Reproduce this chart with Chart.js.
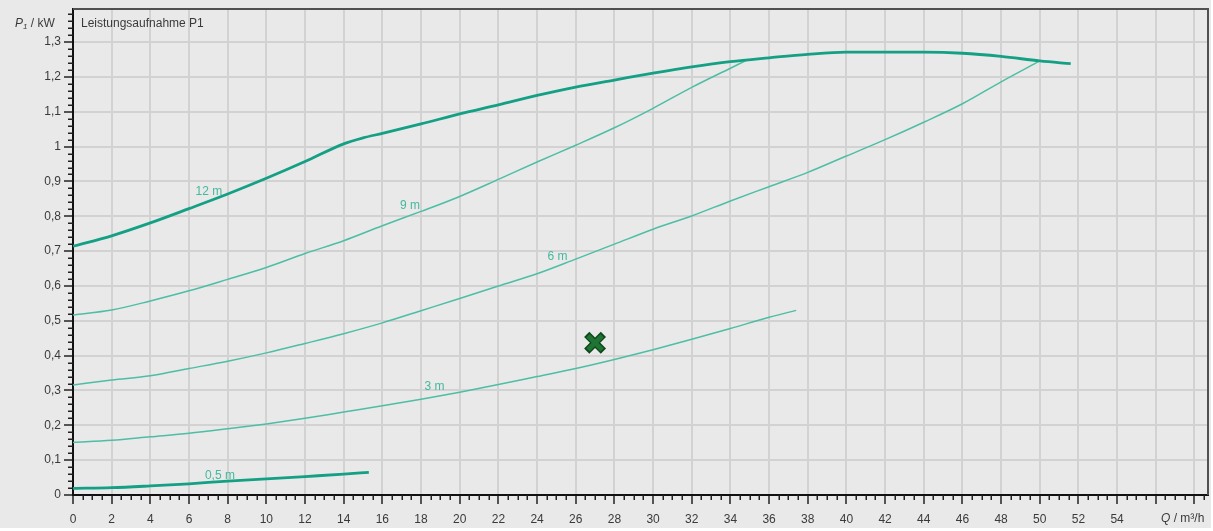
<!DOCTYPE html>
<html lang="de">
<head>
<meta charset="utf-8">
<title>Leistungsaufnahme P1</title>
<script src="https://cdn.jsdelivr.net/npm/chart.js@4/dist/chart.umd.min.js"></script>
<style>
  html, body { margin: 0; padding: 0; background: #ffffff; }
  #wrap { width: 1213px; height: 531px; }
  canvas { display: block; }
</style>
</head>
<body>
<div id="wrap"><canvas id="chart" width="1213" height="531"></canvas></div>
<script>
// Förderstrom Q (m³/h) und Leistungsaufnahme P1 (kW) je Förderhöhe
const q12m = [0, 2, 4, 6, 8, 10, 12, 14, 15, 16, 18, 20, 22, 24, 26, 28, 30, 32, 34, 36, 38, 40, 42, 44, 46, 48, 50, 51.6];
const p12m = [0.714, 0.744, 0.781, 0.822, 0.864, 0.909, 0.957, 1.008, 1.025, 1.038, 1.065, 1.094, 1.12, 1.147, 1.171, 1.191, 1.211, 1.229, 1.244, 1.255, 1.265, 1.271, 1.271, 1.271, 1.268, 1.259, 1.246, 1.238];

const q9m = [0, 2, 4, 6, 8, 10, 12, 14, 16, 18, 20, 22, 24, 26, 28, 30, 32, 34, 34.8];
const p9m = [0.517, 0.531, 0.557, 0.586, 0.619, 0.653, 0.693, 0.73, 0.773, 0.814, 0.857, 0.906, 0.956, 1.004, 1.054, 1.11, 1.17, 1.225, 1.247];

const q6m = [0, 2, 4, 6, 8, 10, 12, 14, 16, 18, 20, 22, 24, 26, 28, 30, 32, 34, 36, 38, 40, 42, 44, 46, 48, 50];
const p6m = [0.316, 0.33, 0.342, 0.363, 0.384, 0.408, 0.435, 0.463, 0.494, 0.529, 0.564, 0.6, 0.635, 0.677, 0.72, 0.763, 0.801, 0.844, 0.885, 0.926, 0.973, 1.02, 1.07, 1.123, 1.186, 1.246];

const q3m = [0, 2, 4, 6, 8, 10, 12, 14, 16, 18, 20, 22, 24, 26, 28, 30, 32, 34, 36, 37.4];
const p3m = [0.151, 0.157, 0.167, 0.177, 0.19, 0.204, 0.22, 0.238, 0.256, 0.275, 0.295, 0.317, 0.34, 0.363, 0.389, 0.417, 0.447, 0.478, 0.51, 0.53];

const q05m = [0, 2, 4, 6, 8, 10, 12, 14, 15.3];
const p05m = [0.019, 0.021, 0.026, 0.032, 0.04, 0.046, 0.053, 0.06, 0.065];

// Betriebspunkt
const markerQ = [27];
const markerP = [0.437];

// Achsbeschriftungen
const xTickLabels = ['0','2','4','6','8','10','12','14','16','18','20','22','24','26','28','30','32','34','36','38','40','42','44','46','48','50','52','54','',''];
const yTickLabels = ['0','0,1','0,2','0,3','0,4','0,5','0,6','0,7','0,8','0,9','1','1,1','1,2','1,3'];

const toPoints = (qs, ps) => qs.map((q, i) => ({ x: q, y: ps[i] }));

const TEAL_DARK = '#14a084';
const TEAL_LIGHT = '#4dbea4';

Chart.defaults.font.family = '"Liberation Sans", Arial, sans-serif';
Chart.defaults.font.size = 12;
Chart.defaults.color = '#3a3a3a';

// Hintergrund, Rahmen oben/rechts, Nebenstriche, Texte
const decor = {
  id: 'decor',
  beforeDraw(chart) {
    const { ctx } = chart;
    ctx.save();
    ctx.fillStyle = '#e9e9e9';
    ctx.fillRect(0, 0, 1211, 528);
    ctx.restore();
  },
  afterDraw(chart, args, opts) {
    const { ctx, chartArea: a, scales: { x, y } } = chart;
    ctx.save();
    // Rahmen oben und rechts
    ctx.strokeStyle = '#505050';
    ctx.lineWidth = 2;
    ctx.beginPath();
    ctx.moveTo(a.left, a.top);
    ctx.lineTo(a.right, a.top);
    ctx.lineTo(a.right, a.bottom);
    ctx.stroke();

    // Nebenstriche
    ctx.strokeStyle = '#222';
    ctx.lineWidth = 1.5;
    ctx.beginPath();
    for (let k = 1; k * 0.5 <= x.max; k++) {
      if (k % 4 === 0) continue;
      const px = Math.round(x.getPixelForValue(k * 0.5)) + 0.25;
      ctx.moveTo(px, a.bottom);
      ctx.lineTo(px, a.bottom + 5);
    }
    for (let k = 1; k * 0.02 <= y.max; k++) {
      if (k % 5 === 0) continue;
      const py = Math.round(y.getPixelForValue(k * 0.02)) + 0.25;
      ctx.moveTo(a.left - 5, py);
      ctx.lineTo(a.left, py);
    }
    ctx.stroke();

    // Kurvenbeschriftungen
    ctx.fillStyle = opts.labelColor;
    ctx.font = '12px "Liberation Sans", Arial, sans-serif';
    ctx.textAlign = 'center';
    ctx.textBaseline = 'middle';
    opts.labels.forEach(l => {
      ctx.fillText(l.text, x.getPixelForValue(l.q), y.getPixelForValue(l.p));
    });

    // Achsentitel und Diagrammtitel
    ctx.fillStyle = '#3a3a3a';
    ctx.textAlign = 'left';
    ctx.textBaseline = 'middle';
    const ty = a.top + 15;
    ctx.font = '12px "Liberation Sans", Arial, sans-serif';
    ctx.fillText('Leistungsaufnahme P1', a.left + 8, ty);

    // P₁ / kW
    let tx = 15;
    ctx.font = 'italic 12px "Liberation Sans", Arial, sans-serif';
    ctx.fillText('P', tx, ty);
    tx += ctx.measureText('P').width;
    ctx.font = 'italic 8px "Liberation Sans", Arial, sans-serif';
    ctx.fillText('1', tx, ty + 3);
    tx += ctx.measureText('1').width;
    ctx.font = '12px "Liberation Sans", Arial, sans-serif';
    ctx.fillText(' / kW', tx, ty);

    // Q / m³/h
    const qy = a.bottom + 24;
    let qx = 1161;
    ctx.font = 'italic 12px "Liberation Sans", Arial, sans-serif';
    ctx.fillText('Q', qx, qy);
    qx += ctx.measureText('Q').width;
    ctx.font = '12px "Liberation Sans", Arial, sans-serif';
    ctx.fillText(' / m³/h', qx, qy);
    ctx.restore();
  }
};

const curve = (label, qs, ps, color, width) => ({
  label,
  data: toPoints(qs, ps),
  showLine: true,
  borderColor: color,
  borderWidth: width,
  pointRadius: 0,
  cubicInterpolationMode: 'monotone',
  fill: false
});

const noPad = s => { s.paddingLeft = 0; s.paddingRight = 0; s.paddingTop = 0; s.paddingBottom = 0; };

new Chart(document.getElementById('chart'), {
  type: 'scatter',
  data: {
    datasets: [
      {
        label: 'Betriebspunkt',
        data: toPoints(markerQ, markerP),
        pointStyle: 'crossRot',
        pointRadius: 10,
        pointBorderWidth: 4.8,
        pointBorderColor: '#1f7333',
        pointBackgroundColor: '#1f7333'
      },
      {
        label: 'Betriebspunkt Kontur',
        data: toPoints(markerQ, markerP),
        pointStyle: 'crossRot',
        pointRadius: 11.8,
        pointBorderWidth: 7.4,
        pointBorderColor: '#0d471b',
        pointBackgroundColor: '#0d471b'
      },
      curve('12 m', q12m, p12m, TEAL_DARK, 2.8),
      curve('9 m', q9m, p9m, TEAL_LIGHT, 1.5),
      curve('6 m', q6m, p6m, TEAL_LIGHT, 1.5),
      curve('3 m', q3m, p3m, TEAL_LIGHT, 1.5),
      curve('0,5 m', q05m, p05m, TEAL_DARK, 2.8)
    ]
  },
  options: {
    responsive: false,
    animation: false,
    devicePixelRatio: 1,
    layout: { autoPadding: false, padding: { top: 9, right: 5, left: 0, bottom: 0 } },
    plugins: {
      legend: { display: false },
      tooltip: { enabled: false },
      decor: {
        labelColor: '#45b89e',
        labels: [
          { text: '12 m', q: 7.03, p: 0.870 },
          { text: '9 m', q: 17.43, p: 0.831 },
          { text: '6 m', q: 25.06, p: 0.683 },
          { text: '3 m', q: 18.7, p: 0.31 },
          { text: '0,5 m', q: 7.6, p: 0.056 }
        ]
      }
    },
    scales: {
      x: {
        type: 'linear',
        min: 0,
        max: 58.7,
        afterFit: s => { s.height = 36; noPad(s); },
        border: { color: '#111', width: 2 },
        grid: { color: '#d2d2d2', lineWidth: 2, tickColor: '#222', tickLength: 9, tickWidth: 1.5 },
        ticks: {
          stepSize: 2,
          includeBounds: false,
          autoSkip: false,
          maxRotation: 0,
          padding: 8,
          color: '#3a3a3a',
          callback: v => xTickLabels[Math.round(v / 2)] ?? ''
        }
      },
      y: {
        type: 'linear',
        min: 0,
        max: 1.395,
        afterFit: s => { s.width = 73; noPad(s); },
        border: { color: '#111', width: 2 },
        grid: { color: '#d2d2d2', lineWidth: 2, tickColor: '#222', tickLength: 9, tickWidth: 1.5 },
        ticks: {
          stepSize: 0.1,
          includeBounds: false,
          autoSkip: false,
          padding: 3,
          color: '#3a3a3a',
          callback: v => yTickLabels[Math.round(v * 10)] ?? ''
        }
      }
    }
  },
  plugins: [decor]
});
</script>
</body>
</html>
